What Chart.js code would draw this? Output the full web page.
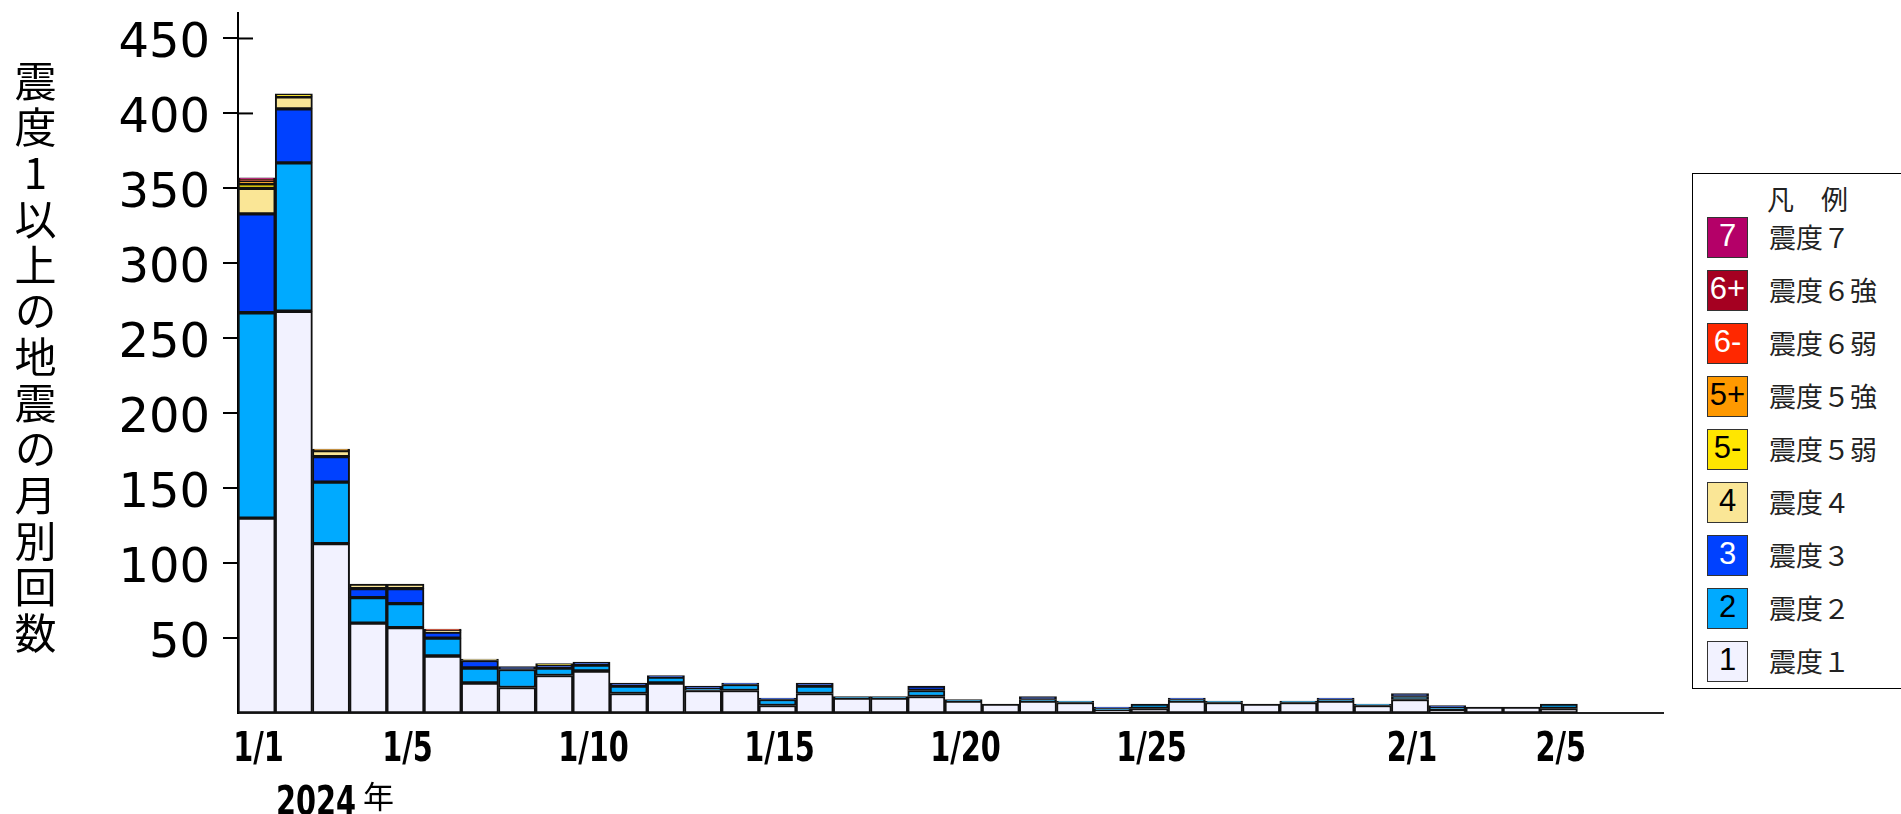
<!DOCTYPE html>
<html lang="ja">
<head>
<meta charset="utf-8">
<title>震度1以上の地震の回数</title>
<script src="https://cdn.jsdelivr.net/npm/chart.js@4.4.1/dist/chart.umd.min.js"></script>
<style>
  html, body { margin: 0; padding: 0; background: #fff; }
  #wrap { position: relative; width: 1901px; height: 814px; overflow: hidden; }
  #chart { position: absolute; left: 0; top: 0; }
  #ytitle {
    position: absolute; left: 14px; top: 60px;
    writing-mode: vertical-rl; text-orientation: upright;
    font: 42px "Noto Sans CJK JP", sans-serif; letter-spacing: 4px; line-height: 1;
    color: #000;
  }
  .narrow {
    position: absolute; transform-origin: 0 0; transform: scaleX(0.72);
    font: bold 40px "DejaVu Sans", sans-serif; color: #000; line-height: 1; white-space: nowrap;
  }
  #year { left: 276px; top: 781px; }
  #nen { position: absolute; left: 363px; top: 779px; font: 31px "Noto Sans CJK JP", sans-serif; line-height: 1; }
  #legend {
    position: absolute; left: 1692px; top: 173px; width: 260px; height: 514px;
    border: 1.5px solid #000; background: #fff;
    font-family: "Noto Sans CJK JP", sans-serif; color: #222;
  }
  #legend .ttl { position: absolute; left: 74px; top: 10px; font-size: 27px; line-height: 30px; }
  #legend .row { position: absolute; left: 14px; height: 41px; }
  #legend .sw {
    position: absolute; left: 0; top: 0; width: 39px; height: 39px;
    border: 1px solid #333; text-align: center; line-height: 40px;
    font: 31px "Liberation Sans", sans-serif;
  }
  #legend .lab { position: absolute; left: 62px; top: 4px; font-size: 27px; line-height: 32px; white-space: nowrap; }
</style>
</head>
<body>
<div id="wrap">
  <canvas id="chart" width="1901" height="814"></canvas>
  <div id="ytitle">震度1以上の地震の月別回数</div>
  <div id="year" class="narrow">2024</div>
  <div id="nen">年</div>
  <div id="legend"></div>
</div>
<script>
// days 1/1 .. 2/5, bar positions 1..36 on the x scale
const days = ['1/1','1/2','1/3','1/4','1/5','1/6','1/7','1/8','1/9','1/10',
  '1/11','1/12','1/13','1/14','1/15','1/16','1/17','1/18','1/19','1/20',
  '1/21','1/22','1/23','1/24','1/25','1/26','1/27','1/28','1/29','1/30',
  '1/31','2/1','2/2','2/3','2/4','2/5'];

// counts per day for each intensity
const shindo1  = [130,268,113,60,57,38,20,17,25,28,13,20,15,15,5,13,10,10,11,8,6,8,7,2,3,8,7,6,7,8,5,9,2,4,4,3];
const shindo2  = [137,99,41,17,16,12,10,12,5,4,5,4,1,4,4,5,1,1,4,1,0,1,1,1,3,1,1,0,1,1,1,2,2,0,0,3];
const shindo3  = [66,36,17,6,10,4,5,2,2,2,2,1,2,1,1,2,0,0,3,0,0,2,0,1,0,1,0,0,0,1,0,2,1,0,0,0];
const shindo4  = [17,8,4,3,3,1,1,0,0,0,0,0,0,0,0,0,0,0,0,0,0,0,0,0,0,0,0,0,0,0,0,0,0,0,0,0];
const shindo5m = [3,2,0,0,0,0,0,0,1,0,0,0,0,0,0,0,0,0,0,0,0,0,0,0,0,0,0,0,0,0,0,0,0,0,0,0];
const shindo5p = [2,0,1,0,0,0,0,0,0,0,0,0,0,0,0,0,0,0,0,0,0,0,0,0,0,0,0,0,0,0,0,0,0,0,0,0];
const shindo6m = [1,0,0,0,0,1,0,0,0,0,0,0,0,0,0,0,0,0,0,0,0,0,0,0,0,0,0,0,0,0,0,0,0,0,0,0];
const shindo6p = [0,0,0,0,0,0,0,0,0,0,0,0,0,0,0,0,0,0,0,0,0,0,0,0,0,0,0,0,0,0,0,0,0,0,0,0];
const shindo7  = [1,0,0,0,0,0,0,0,0,0,0,0,0,0,0,0,0,0,0,0,0,0,0,0,0,0,0,0,0,0,0,0,0,0,0,0];

const yTicks = [50,100,150,200,250,300,350,400,450];
const xTickDays = ['1/1','1/5','1/10','1/15','1/20','1/25','2/1','2/5'];

const seriesNames = ['震度１','震度２','震度３','震度４','震度５弱','震度５強','震度６弱','震度６強','震度７'];
const seriesMarks = ['1','2','3','4','5-','5+','6-','6+','7'];
const seriesColors = ['#F2F2FF','#00AAFF','#0041FF','#FAE696','#FFE600','#FF9900','#FF2800','#A50021','#B40068'];
const markColors = ['#000','#000','#fff','#000','#000','#000','#fff','#fff','#fff'];
const seriesData = [shindo1, shindo2, shindo3, shindo4, shindo5m, shindo5p, shindo6m, shindo6p, shindo7];

//build bar datasets, skip zero counts
const datasets = seriesData.map((vals, i) => ({
  label: seriesNames[i],
  data: vals.map((v, d) => ({ x: d + 1, y: v > 0 ? v : null })),
  backgroundColor: seriesColors[i],
  borderColor: '#111',
  borderWidth: 2,
  borderSkipped: false,
  barPercentage: 1,
  categoryPercentage: 1,
}));

//right half of the y tick crosses, drawn under the bars
const tickCross = {
  id: 'tickCross',
  beforeDatasetsDraw(chart) {
    const y = chart.scales.y;
    const ctx = chart.ctx;
    ctx.save();
    ctx.strokeStyle = '#000';
    ctx.lineWidth = 2;
    y.ticks.forEach(t => {
      const py = y.getPixelForValue(t.value);
      ctx.beginPath();
      ctx.moveTo(chart.chartArea.left, py);
      ctx.lineTo(chart.chartArea.left + 15, py);
      ctx.stroke();
    });
    ctx.restore();
  }
};

//condensed x tick labels (no narrow font installed, so squeeze them)
const narrowTicks = {
  id: 'narrowTicks',
  afterDraw(chart) {
    const x = chart.scales.x;
    const ctx = chart.ctx;
    ctx.save();
    ctx.fillStyle = '#000';
    ctx.font = 'bold 40px "DejaVu Sans", sans-serif';
    ctx.textAlign = 'center';
    ctx.textBaseline = 'middle';
    x.ticks.forEach((t, i) => {
      ctx.save();
      ctx.translate(x.getPixelForValue(t.value) + 2, chart.chartArea.bottom + 38);
      ctx.scale(0.72, 1);
      ctx.fillText(xTickDays[i], 0, 0);
      ctx.restore();
    });
    ctx.restore();
  }
};

new Chart(document.getElementById('chart'), {
  type: 'bar',
  data: { datasets },
  plugins: [tickCross, narrowTicks],
  options: {
    responsive: false,
    animation: false,
    devicePixelRatio: 1,
    layout: { padding: { left: 0, right: 238, top: 13, bottom: 0 } },
    plugins: { legend: { display: false }, tooltip: { enabled: false } },
    scales: {
      x: {
        type: 'linear',
        stacked: true,
        offset: false,
        min: 0.5,
        max: 38.8,
        afterBuildTicks: (s) => { s.ticks = xTickDays.map(d => ({ value: days.indexOf(d) + 1 })); },
        afterFit: (s) => { s.height = 101; s.paddingLeft = 0; s.paddingRight = 0; },
        grid: { display: false },
        border: { display: true, color: '#222', width: 2 },
        ticks: { display: false },
      },
      y: {
        stacked: true,
        min: 0,
        max: 467,
        afterBuildTicks: (s) => { s.ticks = yTicks.map(v => ({ value: v })); },
        afterFit: (s) => { s.width = 238; s.paddingTop = 0; s.paddingBottom = 0; },
        grid: { drawOnChartArea: false, drawTicks: true, tickLength: 15, tickColor: '#000', lineWidth: 2 },
        border: { display: true, color: '#000', width: 2 },
        ticks: {
          padding: 13,
          labelOffset: 6,
          color: '#000',
          font: { family: '"DejaVu Sans", sans-serif', size: 48 },
        },
      },
    },
  },
});

//legend panel, highest intensity first
const legend = document.getElementById('legend');
legend.innerHTML = '<div class="ttl">凡　例</div>';
for (let k = 0; k < seriesNames.length; k++) {
  const i = seriesNames.length - 1 - k;
  const row = document.createElement('div');
  row.className = 'row';
  row.style.top = (43 + 53 * k) + 'px';
  row.innerHTML = '<div class="sw" style="background:' + seriesColors[i] + ';color:' + markColors[i] + '">' +
    seriesMarks[i] + '</div><div class="lab">' + seriesNames[i] + '</div>';
  legend.appendChild(row);
}
</script>
</body>
</html>
